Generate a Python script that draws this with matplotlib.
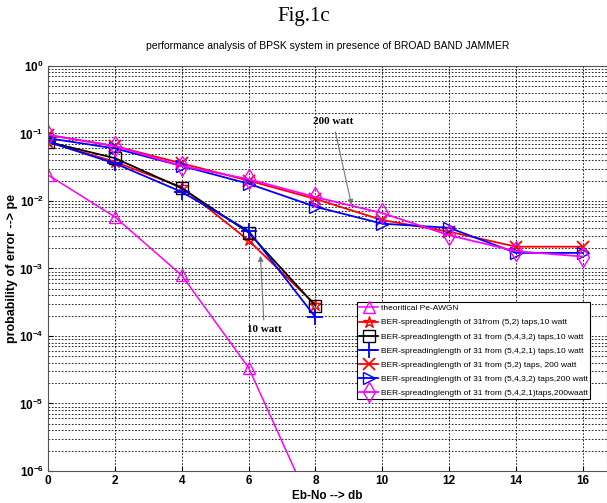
import numpy as np
import matplotlib.pyplot as plt
from matplotlib.ticker import FixedLocator, NullFormatter

# Eb/No in dB
ebno = [0, 2, 4, 6, 8, 10, 12, 14, 16]
ebno_10w = [0, 2, 4, 6, 8]
ebno_th = [0, 2, 4, 6, 8]

pe_awgn = [0.0243, 0.0058, 7.9e-4, 3.4e-5, 2.2e-7]

ber_52_10w = [0.075, 0.038, 0.016, 0.0026, 2.9e-4]
ber_5432_10w = [0.075, 0.043, 0.0155, 0.0034, 2.8e-4]
ber_5421_10w = [0.075, 0.036, 0.0136, 0.0036, 1.9e-4]

ber_52_200w = [0.095, 0.065, 0.036, 0.020, 0.0107, 0.0052, 0.0035, 0.0021, 0.0021]
ber_5432_200w = [0.085, 0.060, 0.033, 0.018, 0.0082, 0.0046, 0.0040, 0.0017, 0.0017]
ber_5421_200w = [0.095, 0.065, 0.033, 0.021, 0.0114, 0.0066, 0.0031, 0.0018, 0.0015]

labels = ['theoritical Pe-AWGN',
          'BER-spreadinglength of 31from (5,2) taps,10 watt',
          'BER-spreadinglength of 31 from (5,4,3,2) taps,10 watt',
          'BER-spreadinglength of 31 from (5,4,2,1) taps,10 watt',
          'BER-spreadinglength of 31 from (5,2) taps, 200 watt',
          'BER-spreadinglength of 31 from (5,4,3,2) taps,200 watt',
          'BER-spreadinglength of 31 from (5,4,2,1)taps,200waatt']

sans = ['Liberation Sans', 'DejaVu Sans']

fig = plt.figure(figsize=(6.07, 5.03), dpi=100)
ax = fig.add_axes([0.079, 0.0636, 0.921, 0.8054])

lw = 1.3
ms = 9
ax.semilogy(ebno_th, pe_awgn, '-^', color='#ff00ff', lw=1.1, ms=ms, mfc='none', label=labels[0])
ax.semilogy(ebno_10w, ber_52_10w, '-*', color='red', lw=lw, ms=ms, mfc='none', label=labels[1])
ax.semilogy(ebno_10w, ber_5432_10w, '-s', color='black', lw=lw, ms=ms, mfc='none', label=labels[2])
ax.semilogy(ebno_10w, ber_5421_10w, '-+', color='blue', lw=lw, ms=11, mew=1.3, label=labels[3])
ax.semilogy(ebno, ber_52_200w, '-x', color='red', lw=lw, ms=ms, mew=1.3, label=labels[4])
ax.semilogy(ebno, ber_5432_200w, '->', color='blue', lw=lw, ms=ms, mfc='none', label=labels[5])
ax.semilogy(ebno, ber_5421_200w, '-d', color='#ff00ff', lw=lw, ms=ms + 1, mfc='none', label=labels[6])

ax.set_xlim(0, 16.72)
ax.set_ylim(1e-6, 1)
ax.set_xticks(ebno)
decades = [10.0 ** k for k in range(-6, 1)]
ax.set_yticks(decades)
ax.yaxis.set_minor_locator(FixedLocator([m * d for d in decades[:-1] for m in range(2, 10)]))
ax.yaxis.set_minor_formatter(NullFormatter())
ax.tick_params(which='both', direction='in', pad=3)
ax.tick_params(which='minor', length=0)
for lab in ax.get_xticklabels() + ax.get_yticklabels():
    lab.set_family(sans)
    lab.set_fontsize(8.5)
    lab.set_fontweight('bold')

ax.grid(True, which='major', linestyle=(0, (2, 2)), linewidth=0.6, color='black')
ax.grid(True, which='minor', axis='y', linestyle=(0, (2, 2)), linewidth=0.6, color='black')
for s in ax.spines.values():
    s.set_color('#555555')

ax.set_xlabel('Eb-No --> db', fontsize=8.5, fontweight='bold', family=sans, va='center')
ax.xaxis.set_label_coords(0.5, -0.061)
ax.set_ylabel('probability of error --> pe', fontsize=9, fontweight='bold', family=sans, labelpad=1)
ax.set_title('performance analysis of BPSK system in presence of BROAD BAND JAMMER',
             fontsize=7.5, family=sans, pad=12)
fig.text(0.5, 0.967, 'Fig.1c', ha='center', va='center', fontsize=15, family='Liberation Serif')

ax.annotate('200 watt', xy=(9.1, 0.0079), xytext=(8.53, 0.148), ha='center', va='center',
            fontsize=8, fontweight='bold', family='Liberation Serif',
            arrowprops=dict(arrowstyle='-|>', color='#777777', lw=0.8, mutation_scale=8))
ax.annotate('10 watt', xy=(6.35, 0.0017), xytext=(6.47, 1.23e-4), ha='center', va='center',
            fontsize=8, fontweight='bold', family='Liberation Serif',
            arrowprops=dict(arrowstyle='-|>', color='#777777', lw=0.8, mutation_scale=8))

leg = ax.legend(loc='upper right', bbox_to_anchor=(0.97, 0.417), fancybox=False,
                framealpha=1, edgecolor='black', prop={'family': sans, 'size': 6},
                handlelength=2.3, borderpad=0.3, labelspacing=0.75, handletextpad=0.3,
                borderaxespad=0)
leg.get_frame().set_linewidth(0.8)

fig.savefig('out.png', dpi=100)
